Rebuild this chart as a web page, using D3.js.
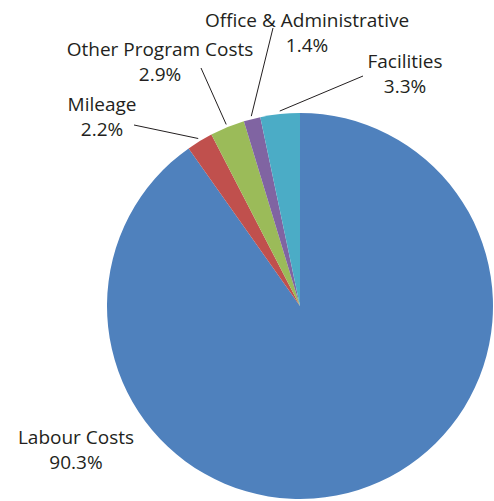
<!DOCTYPE html>
<html>
<head>
<meta charset="utf-8">
<script src="https://cdn.jsdelivr.net/npm/d3@7"></script>
<style>
  html, body { margin: 0; padding: 0; background: #fff; }
  text { font-family: "Open Sans", "Noto Sans", sans-serif; fill: #231f20; }
</style>
</head>
<body>
<svg width="494" height="501"></svg>
<script>
// Categories and shares (percent), clockwise from 12 o'clock
const categories = ["Labour Costs", "Mileage", "Other Program Costs", "Office & Administrative", "Facilities"];
const shares = [90.3, 2.2, 2.9, 1.4, 3.3];
const colors = ["#4f81bd", "#c0504d", "#9bbb59", "#8064a2", "#4bacc6"];

// Label placement (text centre x, first baseline y, leader line start)
const labelPos = [
  { x: 76, y: 444, line: null },
  { x: 102, y: 111, line: [134, 125] },
  { x: 160, y: 56, line: [201, 68] },
  { x: 307, y: 27, line: [273, 28] },
  { x: 405, y: 68, line: [363, 76] }
];

const svg = d3.select("svg");
const cx = 300, cy = 306, radius = 193;

const g = svg.append("g").attr("transform", `translate(${cx},${cy})`);

const pie = d3.pie().sort(null).value(d => d.value);
const arc = d3.arc().innerRadius(0).outerRadius(radius);

const data = categories.map((c, i) => ({ name: c, value: shares[i], i }));
const arcs = pie(data);

g.selectAll("path.slice")
  .data(arcs)
  .join("path")
  .attr("class", "slice")
  .attr("fill", d => colors[d.data.i])
  .attr("d", arc);

// Leader lines: from label to just outside the slice mid-angle
const edgeArc = d3.arc().innerRadius(radius + 3).outerRadius(radius + 3);
arcs.forEach(d => {
  const lp = labelPos[d.data.i];
  if (!lp.line) return;
  const [ex, ey] = edgeArc.centroid(d);
  svg.append("line")
    .attr("x1", lp.line[0]).attr("y1", lp.line[1])
    .attr("x2", cx + ex).attr("y2", cy + ey)
    .attr("stroke", "#231f20")
    .attr("stroke-width", 1);
});

// Labels
arcs.forEach(d => {
  const lp = labelPos[d.data.i];
  const t = svg.append("text")
    .attr("text-anchor", "middle")
    .attr("font-size", 19);
  t.append("tspan").attr("x", lp.x).attr("y", lp.y).text(d.data.name);
  t.append("tspan").attr("x", lp.x).attr("y", lp.y + 25).text(d.data.value.toFixed(1) + "%");
});
</script>
</body>
</html>
